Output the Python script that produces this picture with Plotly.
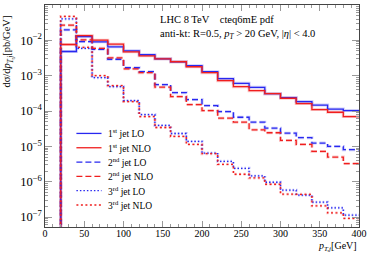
import plotly.graph_objects as go

# bin edges (GeV) and per-bin values (pb/GeV)
bin_edges = [20, 40, 60, 80, 100, 120, 140, 160, 180, 200, 220, 240, 260, 280, 300, 320, 340, 360, 380, 400]

jet1_lo = [0.00484, 0.0128, 0.00908, 0.00656, 0.00506, 0.00391, 0.00301, 0.00248, 0.00191, 0.00130,
           8.23e-4, 6.07e-4, 4.68e-4, 3.11e-4, 2.40e-4, 1.85e-4, 1.48e-4, 1.14e-4, 1.03e-4]
jet1_nlo = [0.00762, 0.01365, 0.01014, 0.00782, 0.00474, 0.00366, 0.00301, 0.00248, 0.00179, 0.00122,
            7.23e-4, 4.90e-4, 3.78e-4, 3.11e-4, 2.30e-4, 1.63e-4, 1.10e-4, 9.25e-5, 7.00e-5]
jet2_lo = [0.0198, 0.00925, 0.00557, 0.00292, 0.00168, 0.00130, 5.57e-4, 3.32e-4, 2.11e-4, 1.43e-4,
           9.68e-5, 6.68e-5, 4.84e-5, 3.28e-5, 2.37e-5, 1.76e-5, 1.24e-5, 1.0e-5, 8.07e-6]
jet2_nlo = [0.0268, 0.01033, 0.00595, 0.00321, 0.00157, 0.00122, 4.74e-4, 2.56e-4, 1.52e-4, 1.03e-4,
            6.27e-5, 4.84e-5, 2.95e-5, 2.43e-5, 1.48e-5, 1.14e-5, 7.23e-6, 5.00e-6, 3.26e-6]
jet3_lo = [0.0403, 0.00595, 8.79e-4, 4.90e-4, 1.98e-4, 7.96e-5, 3.91e-5, 2.32e-5, 1.38e-5, 6.47e-6,
           3.78e-6, 2.40e-6, 1.46e-6, 9.69e-7, 5.76e-7, 4.17e-7, 2.65e-7, 1.83e-7, 1.14e-7]
jet3_nlo = [0.0474, 0.00635, 0.00100, 5.23e-4, 1.85e-4, 7.00e-5, 3.43e-5, 1.91e-5, 1.14e-5, 6.22e-6,
            3.11e-6, 1.63e-6, 1.28e-6, 8.51e-7, 4.45e-7, 4.40e-7, 2.08e-7, 1.32e-7, 9.18e-8]

series_names = ["1<sup>st</sup> jet LO", "1<sup>st</sup> jet NLO",
                "2<sup>nd</sup> jet LO", "2<sup>nd</sup> jet NLO",
                "3<sup>rd</sup> jet LO", "3<sup>rd</sup> jet NLO"]

BLUE = "#2828f0"
RED = "#f01e1e"
FONT = "Liberation Serif"

series = [
    (jet1_lo, BLUE, "solid"),
    (jet1_nlo, RED, "solid"),
    (jet2_lo, BLUE, "6px,3px"),
    (jet2_nlo, RED, "6px,3px"),
    (jet3_lo, BLUE, "1.5px,2px"),
    (jet3_nlo, RED, "2px,2.5px"),
]

fig = go.Figure()
floor = 1e-9
for (vals, color, dash), name in zip(series, series_names):
    xs = [bin_edges[0]] + bin_edges
    ys = [floor] + list(vals) + [vals[-1]]
    fig.add_trace(go.Scatter(x=xs, y=ys, mode="lines", line_shape="hv",
                             line=dict(color=color, width=3.0, dash=dash),
                             opacity=0.22, showlegend=False, hoverinfo="skip"))
for (vals, color, dash), name in zip(series, series_names):
    xs = [bin_edges[0]] + bin_edges
    ys = [floor] + list(vals) + [vals[-1]]
    fig.add_trace(go.Scatter(x=xs, y=ys, mode="lines", line_shape="hv",
                             line=dict(color=color, width=1.3, dash=dash),
                             name=name, showlegend=False))

# compact legend (library legend rows are too tall for this size)
shapes = []
annotations = []
leg_y0 = 0.4215
leg_step = 0.0645
for i, ((vals, color, dash), name) in enumerate(zip(series, series_names)):
    yy = leg_y0 - i * leg_step
    shapes.append(dict(type="line", xref="paper", yref="paper", x0=0.10, x1=0.18, y0=yy, y1=yy,
                       line=dict(color=color, width=1.3, dash=dash)))
    annotations.append(dict(text=name, xref="paper", yref="paper", x=0.195, y=yy,
                            xanchor="left", yanchor="middle", showarrow=False,
                            font=dict(family=FONT, size=9.5)))

axis_common = dict(showline=True, linecolor="#444", linewidth=1, mirror="allticks",
                   ticks="inside", tickcolor="#999", showgrid=False, zeroline=False,
                   tickfont=dict(family=FONT, size=10, color="black"))

fig.update_xaxes(range=[0, 400], dtick=50, ticklen=6, ticklabelstandoff=-3,
                 ticklabeloverflow="allow",
                 minor=dict(ticks="inside", dtick=10, ticklen=3, tickcolor="#999"),
                 **axis_common)
fig.update_yaxes(type="log", range=[-7.28, -1], dtick=1, ticklen=7,
                 exponentformat="power", showexponent="all",
                 minor=dict(ticks="inside", dtick="D1", ticklen=3, tickcolor="#999"),
                 **axis_common)

annotations += [
    dict(text="LHC 8 TeV&nbsp;&nbsp;&nbsp;&nbsp;cteq6mE pdf", xref="paper", yref="paper",
         x=0.36, y=0.935, xanchor="left", yanchor="middle", showarrow=False,
         font=dict(family=FONT, size=10.5)),
    dict(text="anti-kt: R=0.5, <i>p<sub>T</sub></i> > 20 GeV, |<i>η</i>| < 4.0",
         xref="paper", yref="paper",
         x=0.36, y=0.865, xanchor="left", yanchor="middle", showarrow=False,
         font=dict(family=FONT, size=10.5)),
    dict(text="dσ/d<i>p</i><sub><i>T,j</i></sub>[pb/GeV]", xref="paper", yref="paper",
         x=-0.118, y=0.79, textangle=-90, xanchor="center", yanchor="middle",
         showarrow=False, font=dict(family=FONT, size=10.5)),
    dict(text="<i>p</i><sub><i>T,j</i></sub>[GeV]", xref="paper", yref="paper",
         x=1.0, y=-0.09, xanchor="right", yanchor="middle",
         showarrow=False, font=dict(family=FONT, size=10)),
]

fig.update_layout(
    width=371, height=258,
    margin=dict(l=45, r=8, t=4, b=31),
    paper_bgcolor="white", plot_bgcolor="white",
    font=dict(family=FONT, size=10, color="black"),
    showlegend=False,
    shapes=shapes,
    annotations=annotations,
)

fig.write_html("out.html", config={"displayModeBar": False},
               post_script="document.body.style.margin='0';document.body.style.padding='0';")
